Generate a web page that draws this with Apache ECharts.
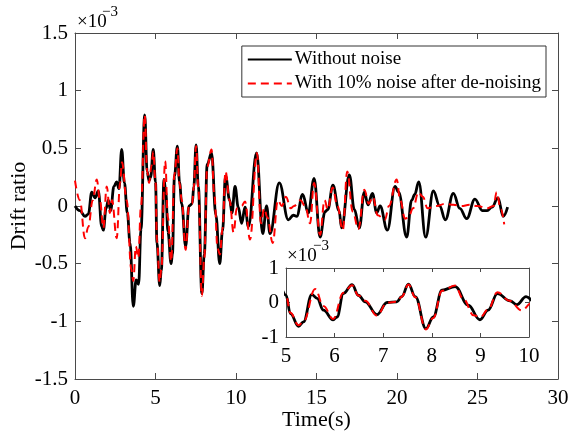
<!DOCTYPE html>
<html>
<head>
<meta charset="utf-8">
<script src="https://cdn.jsdelivr.net/npm/echarts@6/dist/echarts.min.js"></script>
<style>
    html,body{margin:0;padding:0;background:#fff;}
    #main{width:568px;height:439px;}
</style>
</head>
<body>
<div id="main"></div>
<script>
// values in units of 1e-3
var timeBlack = [0,0.3,0.62,0.83,1.04,1.25,1.45,1.66,1.76,1.93,2.07,2.21,2.42,2.59,2.73,2.9,3.07,3.25,3.42,3.62,3.8,3.95,4.1,4.33,4.48,4.6,4.7,4.86,
    5.0,5.09,5.26,5.36,5.53,5.64,5.77,5.97,6.05,6.18,6.36,6.49,6.63,6.87,7.08,7.28,7.38,7.52,7.66,7.88,8.03,8.21,8.48,8.75,8.99,9.16,9.35,9.61,9.75,
    9.94,10.14,10.35,10.56,10.77,11.28,11.66,11.9,12.11,12.69,13.25,13.56,13.77,14.14,14.49,14.85,15.22,15.53,15.7,16.02,16.4,16.56,17.04,17.35,17.66,
    17.97,18.2,18.47,18.74,18.95,19.4,19.88,20.1,20.6,20.91,21.1,21.35,21.78,22.26,22.65,23.0,23.5,23.9,24.33,24.84,25.3,25.6,25.9,26.27,26.6,26.87];
var driftBlack = [0,-0.04,-0.09,-0.07,0.12,0.07,0.13,-0.18,-0.21,-0.02,0.05,-0.04,0.17,0.21,0.15,0.49,0.2,-0.06,-0.32,-0.87,-0.64,-0.68,-0.2,0.79,0.3,0.22,0.25,0.49,
    0.21,-0.32,-0.69,-0.56,0.23,0.12,-0.22,-0.5,-0.42,0.26,0.52,0.21,0.02,-0.35,0,0.02,0.17,0.53,0.17,-0.76,-0.42,0.36,0.46,-0.08,-0.5,-0.22,0.26,0.05,-0.06,
    0.17,-0.01,-0.15,-0.01,-0.18,0.46,-0.24,0,-0.24,0.2,-0.12,-0.08,-0.09,0.1,-0.06,0.24,-0.27,-0.05,-0.03,0.18,-0.04,-0.19,0.27,-0.03,-0.19,
    0.12,0.01,0.11,-0.06,0,-0.21,0.17,0.12,-0.27,0.05,0.1,0.21,-0.27,0.13,0,-0.12,0.11,-0.02,-0.11,0.06,-0.04,-0.04,-0.01,0.07,-0.09,-0.01];

var timeRed = [0,0.3,0.62,0.83,1.1,1.35,1.55,1.76,1.97,2.17,2.3,2.59,2.8,2.92,3.21,3.5,3.62,3.78,3.93,4.1,4.33,4.48,4.6,4.75,4.86,
    5.0,5.09,5.26,5.36,5.6,5.77,5.97,6.18,6.36,6.49,6.63,6.87,7.08,7.28,7.38,7.52,7.66,7.88,8.03,8.21,8.48,8.65,8.86,9.0,9.16,9.35,9.6,9.85,
    10.05,10.35,10.56,10.87,11.3,11.55,11.75,11.95,12.28,12.6,12.85,13.1,13.4,13.6,14.0,14.3,14.6,14.85,15.22,15.5,15.7,16.0,16.3,16.63,16.91,17.25,17.6,
    17.97,18.25,18.5,18.8,19.25,19.5,19.98,20.2,20.5,20.7,21.0,21.33,21.6,21.9,22.46,23.0,23.5,24.0,24.5,25.0,25.6,26.0,26.19,26.45,26.66];
var driftRed = [0.22,0.05,-0.28,-0.18,0.05,0.23,0.05,-0.19,0.17,-0.06,0.05,-0.28,0.2,0.38,0.05,-0.55,-0.65,-0.35,-0.45,0,0.79,0.3,0.2,0.35,0.47,
    0.21,-0.3,-0.66,-0.55,0.39,-0.1,-0.48,0.28,0.5,0.2,0.05,-0.38,0,0.02,0.17,0.52,0.15,-0.78,-0.45,0.34,0.49,0.1,-0.37,-0.42,-0.2,0.3,0.05,-0.23,
    -0.02,0,0.04,-0.29,0.46,-0.15,-0.02,-0.1,-0.32,0.05,0,0.08,-0.02,0,0.05,0,-0.15,0.2,-0.25,0.05,-0.03,0.16,0,-0.21,0.3,-0.05,-0.2,
    0.14,0.02,0.08,-0.08,-0.12,0,0.23,0.05,-0.11,-0.1,-0.02,0.12,0.08,-0.02,0,0.02,0.01,0,0.01,0,-0.02,0,0.12,-0.03,-0.16];

var seriesNames = ['Without noise', 'With 10% noise after de-noising'];
var mainXTicks = {min: 0, max: 30, interval: 5};
var mainYTicks = {min: -1.5, max: 1.5, interval: 0.5};
var insetXTicks = {min: 5, max: 10, interval: 1};
var insetYTicks = {min: -1, max: 1, interval: 1};

function pairs(t, v) {
    var out = [];
    for (var i = 0; i < t.length; i++) out.push([t[i], v[i]]);
    return out;
}

var font = 'Liberation Serif';
var axisColor = '#4a4a4a';

function xAxis(grid, ticks, pos, labels, tickLen, extra) {
    var a = {
        gridIndex: grid, type: 'value', position: pos,
        min: ticks.min, max: ticks.max, interval: ticks.interval,
        axisLine: {show: true, onZero: false, lineStyle: {color: axisColor, width: 1}},
        axisTick: {show: true, inside: true, length: tickLen, lineStyle: {color: axisColor}},
        splitLine: {show: false},
        axisLabel: {show: labels, color: '#000', fontFamily: font, fontSize: 21, margin: 9, hideOverlap: false}
    };
    for (var k in extra) a[k] = extra[k];
    return a;
}
function yAxis(grid, ticks, pos, labels, tickLen, extra) {
    var a = {
        gridIndex: grid, type: 'value', position: pos,
        min: ticks.min, max: ticks.max, interval: ticks.interval,
        axisLine: {show: true, onZero: false, lineStyle: {color: axisColor, width: 1}},
        axisTick: {show: true, inside: true, length: tickLen, lineStyle: {color: axisColor}},
        splitLine: {show: false},
        axisLabel: {show: labels, color: '#000', fontFamily: font, fontSize: 21, margin: 7}
    };
    for (var k in extra) a[k] = extra[k];
    return a;
}

function line(name, data, xi, yi, dashed) {
    return {
        name: name, type: 'line', xAxisIndex: xi, yAxisIndex: yi,
        data: data, symbol: 'none', smooth: 0.4, smoothMonotone: 'x',
        lineStyle: dashed ? {color: '#ff0000', width: 2, type: [8, 5]} : {color: '#000', width: 2.8},
        itemStyle: {color: dashed ? '#ff0000' : '#000'}
    };
}

var blackData = pairs(timeBlack, driftBlack);
var redData = pairs(timeRed, driftRed);

var chart = echarts.init(document.getElementById('main'));
chart.setOption({
    animation: false,
    backgroundColor: '#fff',
    grid: [
        {left: 75, top: 33, width: 483, height: 346, outerBoundsMode: 'none'},
        {left: 286, top: 268, width: 243, height: 69, outerBoundsMode: 'none', show: true, backgroundColor: '#fff', borderWidth: 0}
    ],
    legend: {
        data: seriesNames, orient: 'vertical', right: 22, top: 46,
        itemWidth: 44, itemHeight: 12, itemGap: 5,
        padding: [4, 5, 4, 5],
        borderColor: '#333', borderWidth: 1, backgroundColor: '#fff',
        itemStyle: {opacity: 0},
        textStyle: {fontFamily: font, fontSize: 19, color: '#000', padding: [0, 0, 0, -2]}
    },
    xAxis: [
        xAxis(0, mainXTicks, 'bottom', true, 6, {name: 'Time(s)', nameLocation: 'middle', nameGap: 30, nameMoveOverlap: false,
            nameTextStyle: {fontFamily: font, fontSize: 22, color: '#000'}}),
        xAxis(0, mainXTicks, 'top', false, 6, {}),
        xAxis(1, insetXTicks, 'bottom', true, 4, {}),
        xAxis(1, insetXTicks, 'top', false, 4, {})
    ],
    yAxis: [
        yAxis(0, mainYTicks, 'left', true, 6, {name: 'Drift ratio', nameLocation: 'middle', nameGap: 45, nameMoveOverlap: false,
            nameTextStyle: {fontFamily: font, fontSize: 22, color: '#000'}}),
        yAxis(0, mainYTicks, 'right', false, 6, {}),
        yAxis(1, insetYTicks, 'left', true, 4, {}),
        yAxis(1, insetYTicks, 'right', false, 4, {})
    ],
    graphic: [
        {type: 'text', left: 77, top: 13, style: {text: '×10', font: '19px "Liberation Serif"', fill: '#000'}},
        {type: 'text', left: 102, top: 5, style: {text: '−3', font: '15px "Liberation Serif"', fill: '#000'}},
        {type: 'text', left: 287, top: 247, z: 10, style: {text: '×10', font: '19px "Liberation Serif"', fill: '#000'}},
        {type: 'text', left: 313, top: 239, z: 10, style: {text: '−3', font: '15px "Liberation Serif"', fill: '#000'}}
    ],
    series: [
        line(seriesNames[0], blackData, 0, 0, false),
        line(seriesNames[1], redData, 0, 0, true),
        line(seriesNames[0], blackData, 2, 2, false),
        line(seriesNames[1], redData, 2, 2, true)
    ]
});
</script>
</body>
</html>
